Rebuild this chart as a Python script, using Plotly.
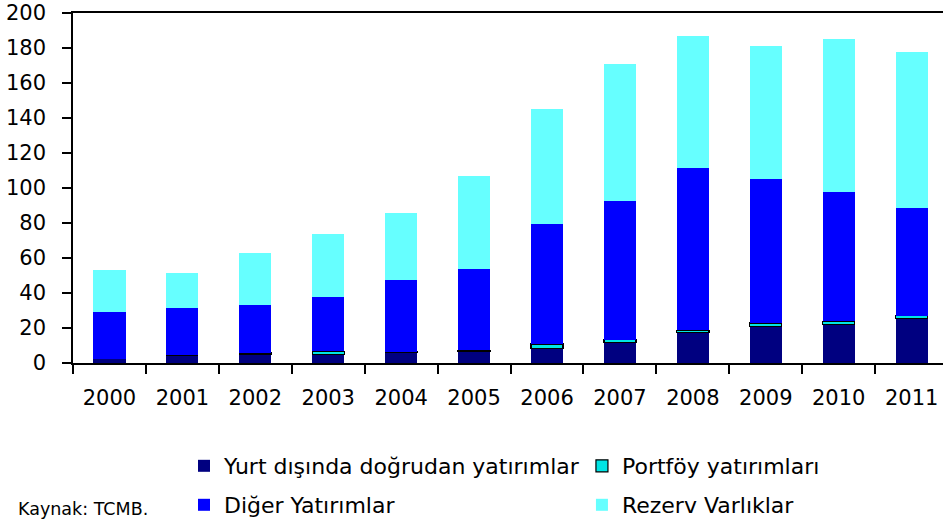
import plotly.graph_objects as go

years = ["2000", "2001", "2002", "2003", "2004", "2005", "2006", "2007", "2008", "2009", "2010", "2011"]
direct = [2.4, 4.3, 5.2, 4.9, 5.8, 6.7, 8.2, 11.5, 17.3, 21.0, 21.9, 25.4]
portfolio = [0, 0, 0.5, 1.8, 0.6, 0.6, 2.7, 1.9, 1.5, 1.9, 2.0, 1.7]
other = [27.0, 27.2, 27.7, 31.3, 41.3, 46.7, 68.8, 78.9, 92.9, 82.5, 74.1, 61.2]
reserve = [23.5, 20.2, 29.2, 36.0, 38.3, 53.1, 65.2, 78.3, 74.9, 76.0, 86.9, 89.7]

y_ticks = [0, 20, 40, 60, 80, 100, 120, 140, 160, 180, 200]

names = ["Yurt dışında doğrudan yatırımlar", "Portföy yatırımları", "Diğer Yatırımlar", "Rezerv Varlıklar"]
colors = ["#000080", "#00E5E5", "#0000FF", "#66FFFF"]
line_colors = ["#000080", "#000000", "#0000FF", "#66FFFF"]
line_widths = [0, 1.2, 0, 0]
legend_ids = ["legend", "legend2", "legend3", "legend4"]
series = [direct, portfolio, other, reserve]

FONT = "DejaVu Sans"

fig = go.Figure()
for i, (nm, vals) in enumerate(zip(names, series)):
    fig.add_trace(go.Bar(
        x=years, y=vals, name=nm,
        marker=dict(color=colors[i], line=dict(color=line_colors[i], width=line_widths[i])),
        legend=legend_ids[i],
    ))

leg_x = [0.1276, 0.585, 0.1276, 0.585]
leg_y = [-0.2308, -0.2308, -0.344, -0.344]
legend_layout = {}
for lid, lx, ly in zip(legend_ids, leg_x, leg_y):
    legend_layout[lid] = dict(x=lx, y=ly, xanchor="left", yanchor="top", orientation="v",
                              font=dict(family=FONT, size=22, color="#000000"),
                              bgcolor="rgba(0,0,0,0)")

fig.update_layout(
    barmode="stack",
    bargap=0.56,
    width=943, height=526,
    margin=dict(l=73, r=0, t=13, b=162),
    plot_bgcolor="white", paper_bgcolor="white",
    font=dict(family=FONT, size=21, color="#000000"),
    showlegend=True,
    xaxis=dict(
        type="category", range=[-0.5, 11.43],
        showline=True, linecolor="#000000", linewidth=1.5, mirror=True,
        ticks="outside", tickson="boundaries", ticklen=9, tickwidth=1.5, tickcolor="#000000",
        showgrid=False, zeroline=False, ticklabelstandoff=15,
        tickfont=dict(family=FONT, size=21),
    ),
    yaxis=dict(
        range=[0, 200], tickvals=y_ticks, ticktext=[str(v) for v in y_ticks],
        showline=True, linecolor="#000000", linewidth=1.5,
        ticks="outside", ticklen=9, tickwidth=1.5, tickcolor="#000000",
        showgrid=False, zeroline=False, ticklabelstandoff=12,
        tickfont=dict(family=FONT, size=21),
    ),
    annotations=[dict(text="Kaynak: TCMB.", xref="paper", yref="paper", x=-0.066, y=-0.416,
                      xanchor="left", yanchor="middle", showarrow=False,
                      font=dict(family=FONT, size=17.5))],
    **legend_layout,
)

fig.write_html(
    "out.html",
    config={"displayModeBar": False},
    post_script="document.body.style.margin='0';document.body.style.overflow='hidden';",
)
